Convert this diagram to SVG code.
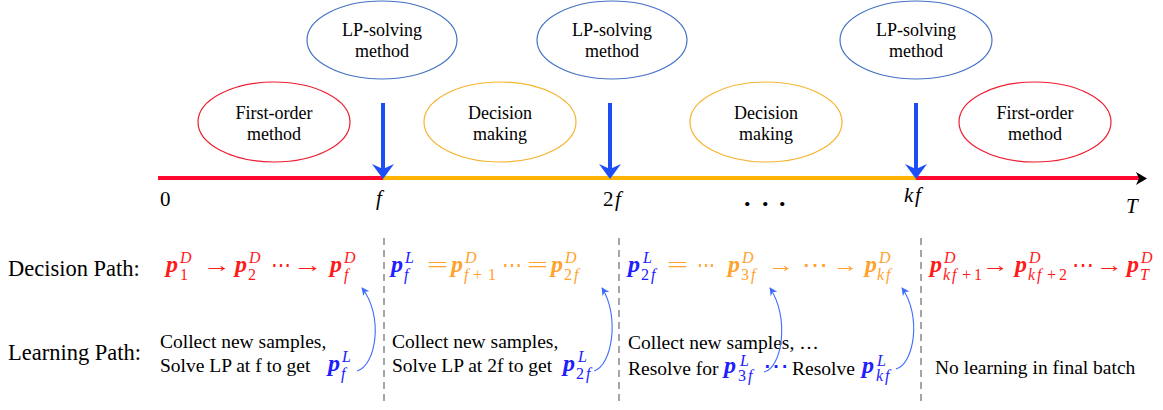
<svg xmlns="http://www.w3.org/2000/svg" width="1163" height="410" viewBox="0 0 1163 410">
<defs>
<style>
text{font-family:"Liberation Serif","DejaVu Serif",serif;fill:#000}
.lbl{font-size:18px;text-anchor:middle}
.el{fill:none;stroke-width:1.2}
.lp{stroke:#4472C4}
.fo{stroke:#EE1C30}
.dm{stroke:#F5B530}
.ax{font-size:21px}
.it{font-style:italic}
.row{font-size:22.5px}
.txt{font-size:19.5px}
.p{font-weight:bold;font-style:italic;font-size:24px}
.s{font-style:italic;font-size:16px}
.n{font-size:16px}
.op{font-size:22px}
.r{fill:#FF1A1A}
.o{fill:#FFA22E}
.b{fill:#2020FF}
.dash{stroke:#888;stroke-width:1.5;stroke-dasharray:7 5}
.cv{fill:none;stroke:#3F6BFF;stroke-width:1.1}
.va{stroke:#1D4EF5;stroke-width:4}
</style>
<marker id="ah" viewBox="0 0 10 10" refX="9" refY="5" markerWidth="8" markerHeight="8" markerUnits="userSpaceOnUse" orient="auto"><path d="M0,0 L10,5 L0,10 L3,5 z" fill="#3F6BFF"/></marker>
</defs>

<g id="timeline">
<line x1="158" y1="178" x2="384" y2="178" stroke="#FF0A2E" stroke-width="4"/>
<line x1="383" y1="178" x2="917" y2="178" stroke="#FFB500" stroke-width="4"/>
<line x1="916" y1="178" x2="1139" y2="178" stroke="#FF0A2E" stroke-width="4"/>
<polygon points="1147,178.5 1136,172 1139,178.5 1136,185" fill="#000"/>
<text class="ax" x="160" y="206">0</text>
<text class="ax it" x="376" y="205">f</text>
<text class="ax" x="603" y="206">2<tspan class="it" x="615">f</tspan></text>
<text class="ax it" x="904 915" y="202">kf</text>
<text class="ax it" x="1126" y="213">T</text>
<text font-size="26" font-weight="bold" x="744 762 779" y="206">...</text>
</g>

<g id="lp1"><ellipse class="el lp" cx="382" cy="40" rx="75" ry="39"/><text class="lbl" x="382" y="36">LP-solving</text><text class="lbl" x="382" y="57">method</text></g>
<g id="lp2"><ellipse class="el lp" cx="612" cy="40" rx="75" ry="39"/><text class="lbl" x="612" y="36">LP-solving</text><text class="lbl" x="612" y="57">method</text></g>
<g id="lp3"><ellipse class="el lp" cx="916" cy="40" rx="76" ry="39"/><text class="lbl" x="916" y="36">LP-solving</text><text class="lbl" x="916" y="57">method</text></g>
<g id="fo1"><ellipse class="el fo" cx="274" cy="122" rx="76" ry="40"/><text class="lbl" x="274" y="119">First-order</text><text class="lbl" x="274" y="140">method</text></g>
<g id="dm1"><ellipse class="el dm" cx="500" cy="122" rx="76" ry="40"/><text class="lbl" x="500" y="119">Decision</text><text class="lbl" x="500" y="140">making</text></g>
<g id="dm2"><ellipse class="el dm" cx="766" cy="122" rx="76" ry="40"/><text class="lbl" x="766" y="119">Decision</text><text class="lbl" x="766" y="140">making</text></g>
<g id="fo2"><ellipse class="el fo" cx="1035" cy="122" rx="76" ry="40"/><text class="lbl" x="1035" y="119">First-order</text><text class="lbl" x="1035" y="140">method</text></g>

<g id="dividers">
<line class="dash" x1="384" y1="238" x2="384" y2="405"/>
<line class="dash" x1="619" y1="238" x2="619" y2="405"/>
<line class="dash" x1="921" y1="238" x2="921" y2="405"/>
</g>

<g id="labels">
<text class="row" x="8" y="276">Decision Path:</text>
<text class="row" x="8" y="360">Learning Path:</text>
</g>

<g id="decision-path">
<text class="r"><tspan class="p" x="166" y="272">p</tspan><tspan class="s" x="180" y="263">D</tspan><tspan class="n" x="180" y="280">1</tspan></text>
<text class="r op" x="203" y="272" textLength="28" lengthAdjust="spacingAndGlyphs">→</text>
<text class="r"><tspan class="p" x="235" y="272">p</tspan><tspan class="s" x="249" y="263">D</tspan><tspan class="n" x="248" y="280">2</tspan></text>
<text class="r op" x="271" y="272" textLength="20" lengthAdjust="spacingAndGlyphs">⋯</text>
<text class="r op" x="293" y="272" textLength="30" lengthAdjust="spacingAndGlyphs">→</text>
<text class="r"><tspan class="p" x="330" y="272">p</tspan><tspan class="s" x="344" y="263">D</tspan><tspan class="s" x="344" y="280">f</tspan></text>

<text class="b"><tspan class="p" x="391" y="272">p</tspan><tspan class="s" x="405" y="263">L</tspan><tspan class="s" x="404" y="280">f</tspan></text>
<text class="o op" x="427" y="272" textLength="21" lengthAdjust="spacingAndGlyphs">=</text>
<text class="o"><tspan class="p" x="451" y="272">p</tspan><tspan class="s" x="465" y="263">D</tspan><tspan class="s" x="464" y="280">f</tspan><tspan class="n" x="473" y="280">+</tspan><tspan class="n" x="488" y="280">1</tspan></text>
<text class="o op" x="502" y="272" textLength="20" lengthAdjust="spacingAndGlyphs">⋯</text>
<text class="o op" x="527" y="272" textLength="21" lengthAdjust="spacingAndGlyphs">=</text>
<text class="o"><tspan class="p" x="551" y="272">p</tspan><tspan class="s" x="565" y="263">D</tspan><tspan class="n" x="564" y="280">2</tspan><tspan class="s" x="574" y="280">f</tspan></text>

<text class="b"><tspan class="p" x="628" y="272">p</tspan><tspan class="s" x="643" y="263">L</tspan><tspan class="n" x="641" y="280">2</tspan><tspan class="s" x="651" y="280">f</tspan></text>
<text class="o op" x="667" y="272" textLength="21" lengthAdjust="spacingAndGlyphs">=</text>
<text class="o op" x="697" y="272" textLength="18" lengthAdjust="spacingAndGlyphs">⋯</text>
<text class="o"><tspan class="p" x="728" y="272">p</tspan><tspan class="s" x="742" y="263">D</tspan><tspan class="n" x="741" y="280">3</tspan><tspan class="s" x="751" y="280">f</tspan></text>
<text class="o op" x="768" y="272" textLength="26" lengthAdjust="spacingAndGlyphs">→</text>
<text class="o op" x="802" y="272" textLength="26" lengthAdjust="spacingAndGlyphs">⋯</text>
<text class="o op" x="833" y="272" textLength="25" lengthAdjust="spacingAndGlyphs">→</text>
<text class="o"><tspan class="p" x="865" y="272">p</tspan><tspan class="s" x="879" y="263">D</tspan><tspan class="s" x="877" y="280">k</tspan><tspan class="s" x="886" y="280">f</tspan></text>

<text class="r"><tspan class="p" x="930" y="272">p</tspan><tspan class="s" x="944" y="263">D</tspan><tspan class="s" x="943" y="280">k</tspan><tspan class="s" x="952" y="280">f</tspan><tspan class="n" x="962" y="280">+</tspan><tspan class="n" x="974" y="280">1</tspan></text>
<text class="r op" x="982" y="272" textLength="27" lengthAdjust="spacingAndGlyphs">→</text>
<text class="r"><tspan class="p" x="1015" y="272">p</tspan><tspan class="s" x="1029" y="263">D</tspan><tspan class="s" x="1028" y="280">k</tspan><tspan class="s" x="1037" y="280">f</tspan><tspan class="n" x="1047" y="280">+</tspan><tspan class="n" x="1059" y="280">2</tspan></text>
<text class="r op" x="1072" y="272" textLength="22" lengthAdjust="spacingAndGlyphs">⋯</text>
<text class="r op" x="1096" y="272" textLength="27" lengthAdjust="spacingAndGlyphs">→</text>
<text class="r"><tspan class="p" x="1127" y="272">p</tspan><tspan class="s" x="1141" y="263">D</tspan><tspan class="s" x="1140" y="280">T</tspan></text>
</g>

<g id="learning-path">
<text class="txt" x="160" y="348">Collect new samples,</text>
<text class="txt" x="160" y="372">Solve LP at f to get</text>
<text class="b"><tspan class="p" x="328" y="371">p</tspan><tspan class="s" x="342" y="362">L</tspan><tspan class="s" x="341" y="379">f</tspan></text>

<text class="txt" x="392" y="348">Collect new samples,</text>
<text class="txt" x="392" y="372">Solve LP at 2f to get</text>
<text class="b"><tspan class="p" x="563" y="371">p</tspan><tspan class="s" x="578" y="362">L</tspan><tspan class="n" x="576" y="379">2</tspan><tspan class="s" x="586" y="379">f</tspan></text>

<text class="txt" x="628" y="349">Collect new samples, …</text>
<text class="txt" x="628" y="375">Resolve for</text>
<text class="b"><tspan class="p" x="724" y="373">p</tspan><tspan class="s" x="740" y="366">L</tspan><tspan class="n" x="738" y="381">3</tspan><tspan class="s" x="748" y="381">f</tspan></text>
<text class="b op" x="763" y="373" textLength="26" lengthAdjust="spacingAndGlyphs">⋯</text>
<text class="txt" x="792" y="375">Resolve</text>
<text class="b"><tspan class="p" x="862" y="373">p</tspan><tspan class="s" x="877" y="366">L</tspan><tspan class="s" x="876" y="381">k</tspan><tspan class="s" x="885" y="381">f</tspan></text>

<text class="txt" x="935" y="374">No learning in final batch</text>
</g>

<g id="connectors">
<line class="va" x1="383" y1="103" x2="383" y2="170"/>
<polygon points="383,179 372,164 383,169 394,164" fill="#1D4EF5"/>
<line class="va" x1="610" y1="103" x2="610" y2="170"/>
<polygon points="610,179 599,164 610,169 621,164" fill="#1D4EF5"/>
<line class="va" x1="916" y1="103" x2="916" y2="170"/>
<polygon points="916,179 905,164 916,169 927,164" fill="#1D4EF5"/>
<path class="cv" d="M357,371 C376,366 384,316 362,288" marker-end="url(#ah)"/>
<path class="cv" d="M594,371 C612,366 620,316 602,288" marker-end="url(#ah)"/>
<path class="cv" d="M764,372 C782,368 790,318 770,288" marker-end="url(#ah)"/>
<path class="cv" d="M896,369 C914,364 922,316 902,288" marker-end="url(#ah)"/>
</g>
</svg>
